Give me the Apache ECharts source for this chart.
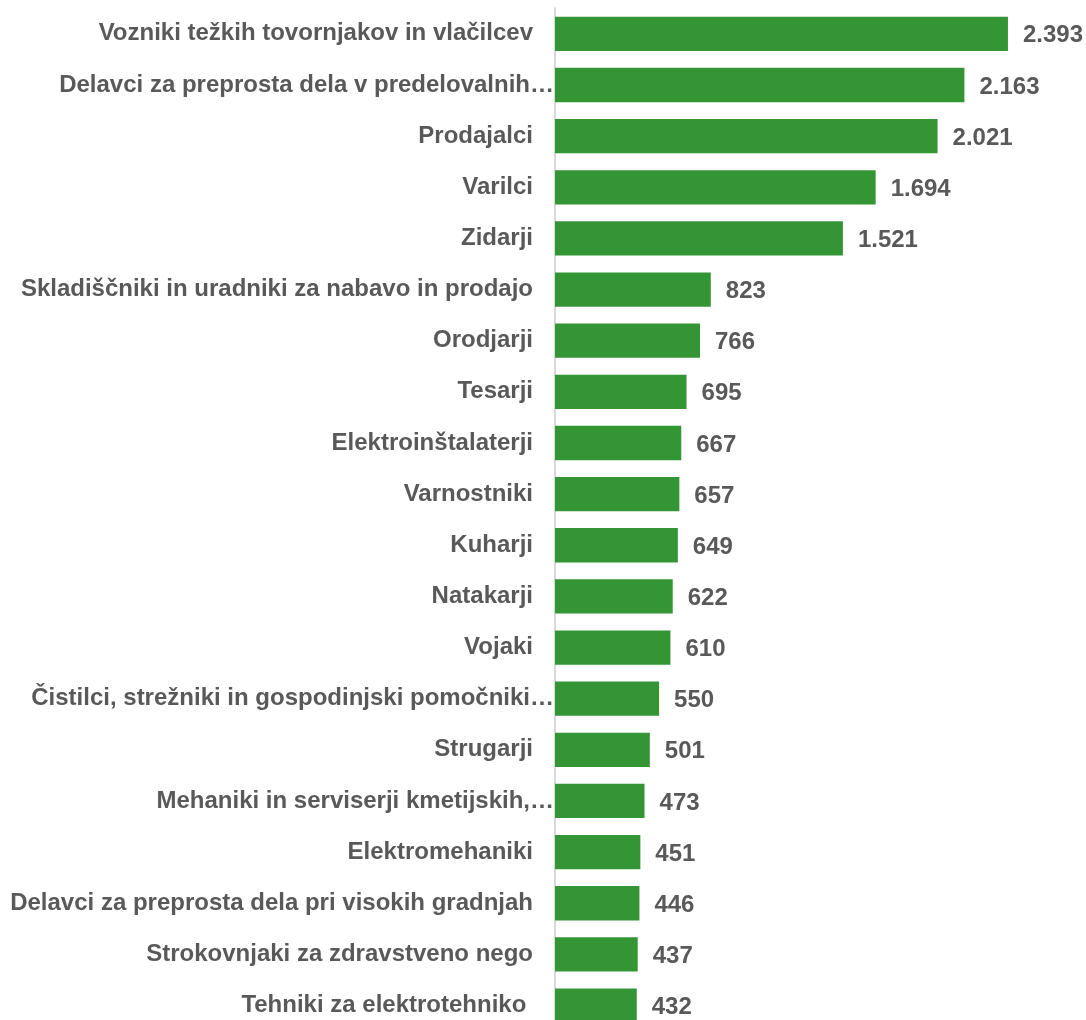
<!DOCTYPE html>
<html>
<head>
<meta charset="utf-8">
<script src="https://cdn.jsdelivr.net/npm/echarts@6/dist/echarts.min.js"></script>
<style>html,body{margin:0;padding:0;background:#fff;overflow:hidden}#c{width:1086px;height:1040px}</style>
</head>
<body>
<div id="c"></div>
<script>
const categories = [
  "Vozniki težkih tovornjakov in vlačilcev",
  "Delavci za preprosta dela v predelovalnih…",
  "Prodajalci",
  "Varilci",
  "Zidarji",
  "Skladiščniki in uradniki za nabavo in prodajo",
  "Orodjarji",
  "Tesarji",
  "Elektroinštalaterji",
  "Varnostniki",
  "Kuharji",
  "Natakarji",
  "Vojaki",
  "Čistilci, strežniki in gospodinjski pomočniki…",
  "Strugarji",
  "Mehaniki in serviserji kmetijskih,…",
  "Elektromehaniki",
  "Delavci za preprosta dela pri visokih gradnjah",
  "Strokovnjaki za zdravstveno nego",
  "Tehniki za elektrotehniko "
];
const values = [2393, 2163, 2021, 1694, 1521, 823, 766, 695, 667, 657, 649, 622, 610, 550, 501, 473, 451, 446, 437, 432];

const chart = echarts.init(document.getElementById('c'));
const fmt = v => String(v).replace(/\B(?=(\d{3})+(?!\d))/g, '.');
const FONT = 'Liberation Sans, Arial, sans-serif';
chart.setOption({
  animation: false,
  grid: { left: 555, top: 8.3, width: 530, height: 1022.8, containLabel: false },
  xAxis: { type: 'value', min: 0, max: 2800, show: false },
  yAxis: {
    type: 'category', inverse: true, data: categories,
    axisLine: { show: true, lineStyle: { color: '#d9d9d9', width: 2 } },
    axisTick: { show: false },
    axisLabel: {
      margin: 1,
      formatter: v => v.endsWith('…') ? '{b|' + v + '}' : '{a|' + v.replace(/ $/, '\u00a0') + '}',
      rich: {
        a: { fontFamily: FONT, fontWeight: 'bold', fontSize: 24, color: '#595959', padding: [0, 21, 0, 0] },
        b: { fontFamily: FONT, fontWeight: 'bold', fontSize: 24, color: '#595959', padding: [0, 0, 0, 0] }
      }
    }
  },
  series: [{
    type: 'bar', data: values, barWidth: 34.3,
    itemStyle: { color: '#349534' },
    label: {
      show: true, position: 'right', distance: 15, offset: [0, 2],
      formatter: p => fmt(p.value),
      fontFamily: FONT, fontWeight: 'bold', fontSize: 24, color: '#595959'
    }
  }]
});
</script>
</body>
</html>
